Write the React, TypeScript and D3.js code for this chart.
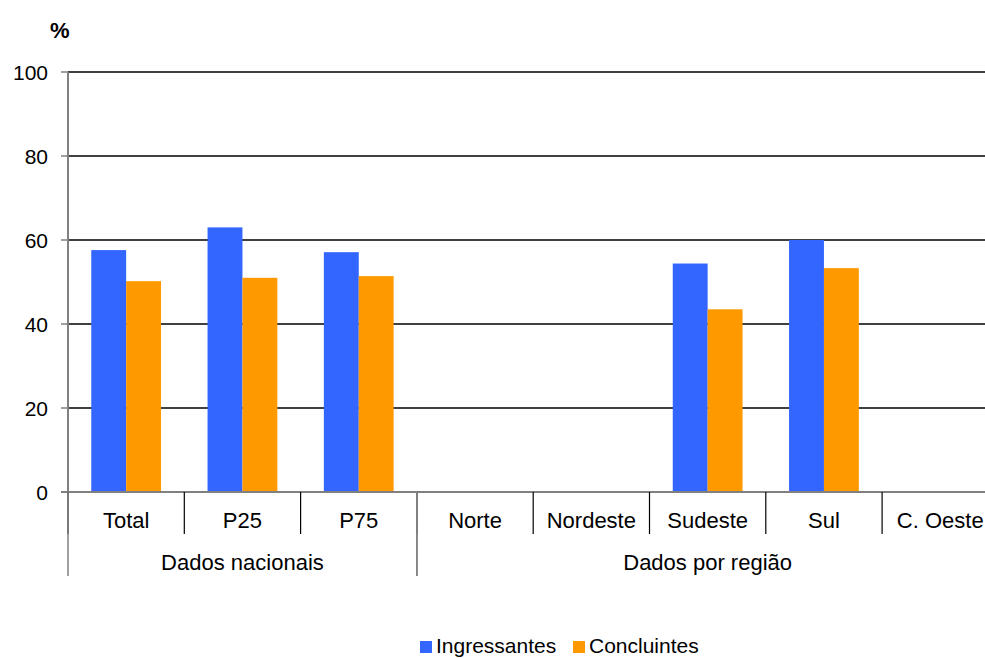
import React from "react";
import * as d3 from "d3";

const categories = ["Total", "P25", "P75", "Norte", "Nordeste", "Sudeste", "Sul", "C. Oeste"];
const groups = [
  { label: "Dados nacionais", start: 0, end: 3 },
  { label: "Dados por região", start: 3, end: 8 },
];
const seriesNames = ["Ingressantes", "Concluintes"];
const ingressantes: (number | null)[] = [57.6, 63.0, 57.1, null, null, 54.4, 60.0, null];
const concluintes: (number | null)[] = [50.2, 51.0, 51.4, null, null, 43.5, 53.3, null];
const yTicks = [0, 20, 40, 60, 80, 100];
const colors = ["#3366FF", "#FF9900"];

export default function App() {
  const W = 985, H = 658;
  const left = 68, top = 72, bottom = 492;
  const slot = 116.3;
  const right = left + slot * categories.length;
  const x = d3.scaleBand<string>().domain(categories).range([left, right]).paddingInner(0).paddingOuter(0);
  const y = d3.scaleLinear().domain([0, 100]).range([bottom, top]);
  const barW = x.bandwidth() * 0.3;
  const offset = (x.bandwidth() - 2 * barW) / 2;
  const data = [ingressantes, concluintes];
  const font = "'Liberation Sans', Arial, sans-serif";
  const fs = 21;
  const fsLabel = 22;
  return (
    <svg width={W} height={H} style={{ position: "absolute", left: 0, top: 0 }} fontFamily={font}>
      <rect width={W} height={H} fill="#fff" />
      <text x={50} y={38} fontSize={22} fontWeight="bold">%</text>
      {yTicks.map((t) => (
        <g key={t}>
          {t > 0 && <line x1={left} x2={W} y1={y(t)} y2={y(t)} stroke="#000" strokeWidth={1.3} />}
          <line x1={61} x2={left} y1={y(t)} y2={y(t)} stroke="#808080" strokeWidth={1.5} />
          <text x={48} y={y(t)} fontSize={fs} textAnchor="end" dominantBaseline="central">{t}</text>
        </g>
      ))}
      {data.map((series, si) =>
        series.map((v, i) =>
          v == null ? null : (
            <rect key={si + "-" + i}
              x={(x(categories[i]) as number) + offset + si * barW}
              y={y(v)} width={barW} height={bottom - y(v)} fill={colors[si]} />
          )
        )
      )}
      <line x1={left} x2={left} y1={top} y2={bottom} stroke="#808080" strokeWidth={2} />
      <line x1={61} x2={W} y1={bottom} y2={bottom} stroke="#808080" strokeWidth={2} />
      {categories.map((c, i) => (
        <g key={c}>
          <line x1={(x(c) as number)} x2={(x(c) as number)} y1={bottom} y2={534} stroke="#000" strokeWidth={1.2} />
          <text x={(x(c) as number) + x.bandwidth() / 2} y={520} fontSize={fsLabel} textAnchor="middle" dominantBaseline="central">{c}</text>
        </g>
      ))}
      {groups.map((g) => {
        const x0 = x(categories[g.start]) as number;
        const x1 = g.end < categories.length ? (x(categories[g.end]) as number) : right;
        return (
          <g key={g.label}>
            <line x1={x0} x2={x0} y1={bottom} y2={576} stroke="#808080" strokeWidth={1.5} />
            <line x1={x1} x2={x1} y1={bottom} y2={576} stroke="#808080" strokeWidth={1.5} />
            <text x={(x0 + x1) / 2} y={562} fontSize={fsLabel} textAnchor="middle" dominantBaseline="central">{g.label}</text>
          </g>
        );
      })}
      {seriesNames.map((s, i) => {
        const lx = i === 0 ? 420 : 573;
        return (
          <g key={s}>
            <rect x={lx} y={641} width={12} height={12} fill={colors[i]} />
            <text x={lx + 16} y={653} fontSize={21}>{s}</text>
          </g>
        );
      })}
    </svg>
  );
}
